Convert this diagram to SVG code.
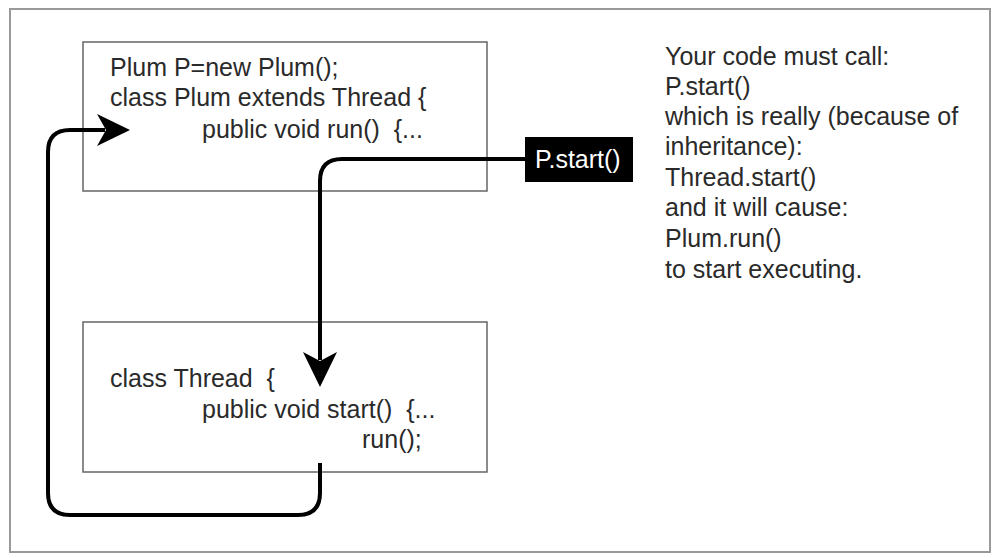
<svg xmlns="http://www.w3.org/2000/svg" width="994" height="558" viewBox="0 0 994 558">
<defs>
<style>
.t{font-family:"Liberation Sans",Arial,sans-serif;font-size:25px;fill:#2a2a2a;white-space:pre}
.box{fill:none;stroke:#666;stroke-width:1.5}
.conn{fill:none;stroke:#000;stroke-width:4}
</style>
</defs>
<rect x="0" y="0" width="994" height="558" fill="#fff"/>
<rect x="10" y="9" width="980" height="543" fill="#fff" stroke="#999" stroke-width="2"/>
<g id="plum-box">
<rect class="box" x="83" y="42" width="404" height="149"/>
<text class="t" x="110" y="76">Plum P=new Plum();</text>
<text class="t" x="110" y="106">class Plum extends Thread {</text>
<text class="t" x="202" y="138">public void run()  {...</text>
</g>
<g id="thread-box">
<rect class="box" x="83" y="322" width="404" height="150"/>
<text class="t" x="110" y="387">class Thread  {</text>
<text class="t" x="202" y="418">public void start()  {...</text>
<text class="t" x="362" y="448">run();</text>
</g>
<g id="connectors">
<path class="conn" d="M525 159 H342 Q320 159 320 181 V360"/>
<path d="M320 387 L303 352 L320 361 L337 352 Z" fill="#000"/>
<path class="conn" d="M320 463 V493 Q320 515 298 515 H70 Q48 515 48 493 V152 Q48 130 70 130 H105"/>
<path d="M130 130 L97 114 L106 130 L97 146 Z" fill="#000"/>
</g>
<g id="pstart">
<rect x="525" y="137" width="108" height="45" fill="#000"/>
<text class="t" x="535" y="168" style="fill:#fff">P.start()</text>
</g>
<g id="note">
<text class="t" x="665" y="65">Your code must call:</text>
<text class="t" x="665" y="95">P.start()</text>
<text class="t" x="665" y="125">which is really (because of</text>
<text class="t" x="665" y="155">inheritance):</text>
<text class="t" x="665" y="186">Thread.start()</text>
<text class="t" x="665" y="216">and it will cause:</text>
<text class="t" x="665" y="247">Plum.run()</text>
<text class="t" x="665" y="278">to start executing.</text>
</g>
</svg>
